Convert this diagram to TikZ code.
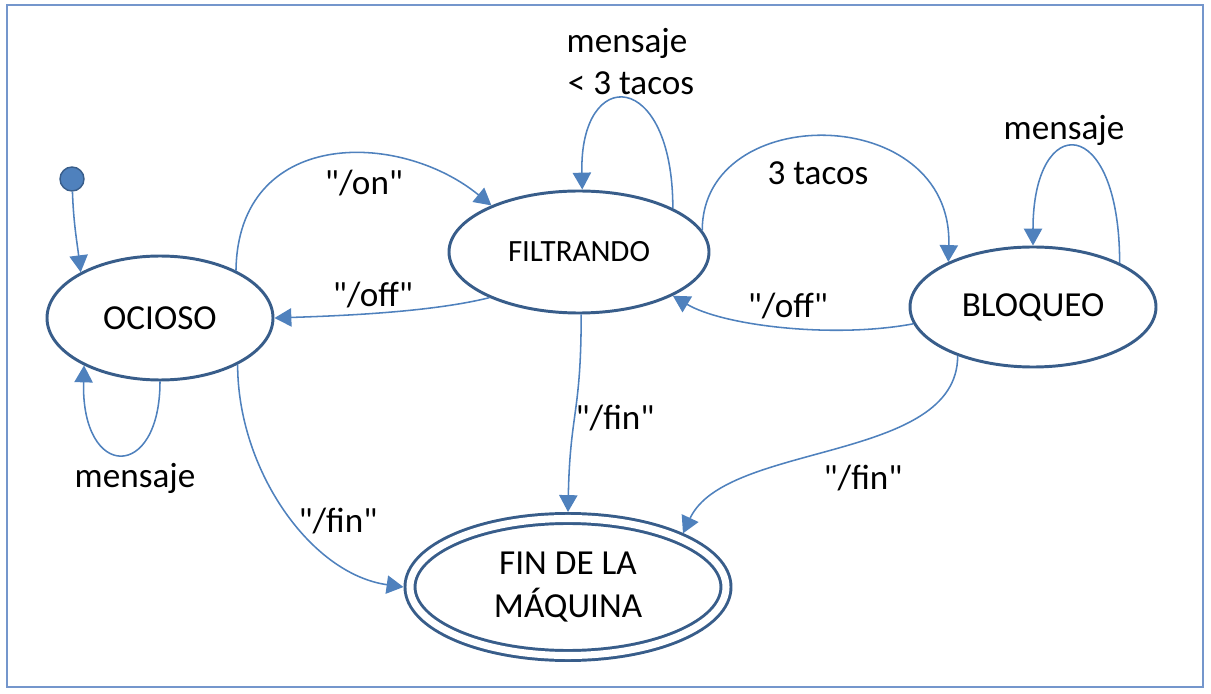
\documentclass[tikz,border=0pt]{standalone}
\usepackage{fontspec}
\setmainfont{Carlito}
\newfontfamily\diagfont{Carlito}
\usetikzlibrary{arrows.meta,shapes.geometric}
\definecolor{edgeblue}{RGB}{79,129,189}
\definecolor{stateblue}{RGB}{56,93,138}
\definecolor{frameblue}{RGB}{116,150,204}
\begin{document}
\begin{tikzpicture}[x=0.025cm, y=-0.025cm,
  state/.style={ellipse, draw=stateblue, line width=2.1pt, inner sep=0pt, font=\diagfont\fontsize{25}{30}\selectfont},
  edge/.style={draw=edgeblue, line width=1.1pt, -{Triangle[length=12pt,width=13pt]}},
  lbl/.style={font=\diagfont\fontsize{25}{30}\selectfont, inner sep=0pt, anchor=base}]
\pgfmathsetlengthmacro\px{0.025cm};
\useasboundingbox (0,0) rectangle (1211,694);
\draw[frameblue, line width=1.4pt] (7,5) rectangle (1203,687);
\node[circle, fill=edgeblue, draw=stateblue, line width=1pt, minimum size=24*\px, inner sep=0pt] (ini) at (72,179) {};
\node[state, minimum width=226*\px, minimum height=124*\px] (ocioso) at (160,318) {OCIOSO};
\node[state, minimum width=260*\px, minimum height=122*\px, font=\diagfont\fontsize{22}{26}\selectfont] (filtrando) at (579,252) {FILTRANDO};
\node[state, minimum width=246*\px, minimum height=120*\px] (bloqueo) at (1033,307) {BLOQUEO};
\node[state, double, double distance=5pt, minimum width=316*\px, minimum height=137*\px, outer sep=6.5*\px, align=center] (fin) at (568,587) {FIN DE LA\\MÁQUINA};
\node[lbl] (lmsgf) at (627,53) {mensaje};
\node[lbl] (ltacosf) at (631,95) {< 3 tacos};
\node[lbl] (ltacos) at (818,185) {3 tacos};
\node[lbl] (lmsgb) at (1064,140) {mensaje};
\node[lbl] (lon) at (364,195) {"/on"};
\node[lbl] (loffo) at (373,307) {"/off"};
\node[lbl] (loffb) at (788,318) {"/off"};
\node[lbl] (lfinf) at (615,430) {"/fin"};
\node[lbl] (lfino) at (338,532) {"/fin"};
\node[lbl] (lfinb) at (863,490) {"/fin"};
\node[lbl] (lmsgo) at (135,488) {mensaje};
\draw[edge] (ini) to[out=-88,in=97] (ocioso.150);
\draw[edge] (ocioso.32) .. controls +(2,-142) and +(-93,-76) .. (filtrando.152);
\draw[edge] (filtrando.207) .. controls +(-60,15) and +(60,-2) .. (ocioso.0);
\draw[edge] (filtrando.25) .. controls +(0,-140) and +(-3,-125) .. (filtrando.87);
\draw[edge] (filtrando.10) .. controls +(0,-130) and +(5,-160) .. (bloqueo.152);
\draw[edge] (bloqueo.188) .. controls +(-80,15) and +(50,30) .. (filtrando.335);
\draw[edge] (bloqueo.27) .. controls +(0,-150) and +(0,-135) .. (bloqueo.90);
\draw[edge] (filtrando.272) .. controls +(0,100) and +(2,-100) .. (fin.90);
\draw[edge] (bloqueo.213) .. controls +(0,107) and +(43,-92) .. (fin.25);
\draw[edge] (ocioso.329) .. controls +(0,105) and +(-93,-13) .. (fin.180);
\draw[edge] (ocioso.270) .. controls +(0,100) and +(-3,115) .. (ocioso.212);
\end{tikzpicture}
\end{document}
